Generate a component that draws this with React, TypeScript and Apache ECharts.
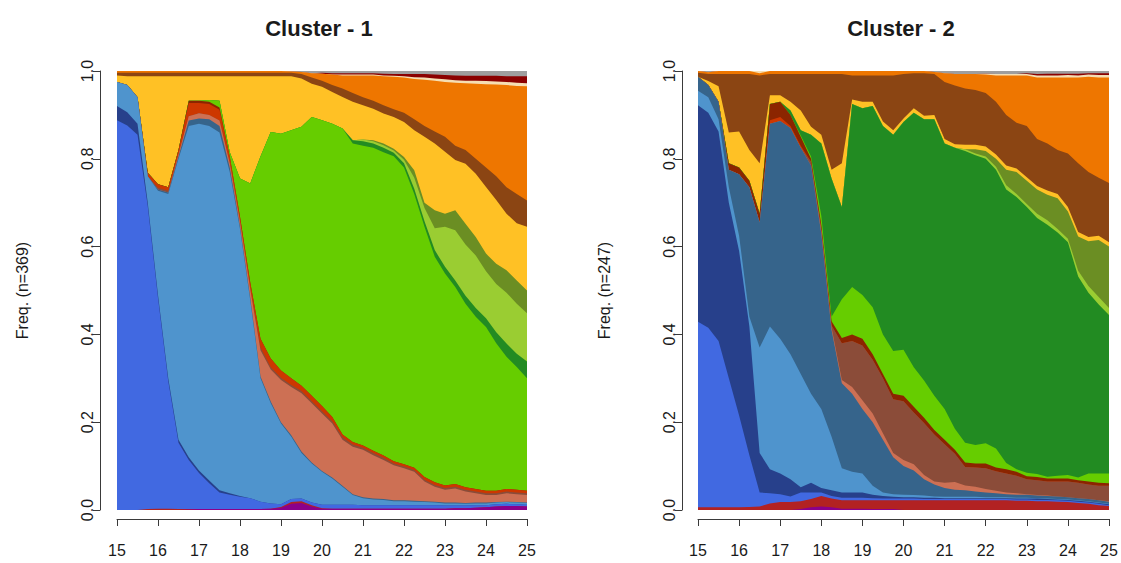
import React, { useEffect, useRef } from "react";
import * as echarts from "echarts";

// Age axis (quarterly time points)
const ages = [
  15, 15.25, 15.5, 15.75, 16, 16.25, 16.5, 16.75, 17, 17.25,
  17.5, 17.75, 18, 18.25, 18.5, 18.75, 19, 19.25, 19.5, 19.75,
  20, 20.25, 20.5, 20.75, 21, 21.25, 21.5, 21.75, 22, 22.25,
  22.5, 22.75, 23, 23.25, 23.5, 23.75, 24, 24.25, 24.5, 24.75, 25,
];
const ageTicks = [15, 16, 17, 18, 19, 20, 21, 22, 23, 24, 25];
const freqTicks = [0, 0.2, 0.4, 0.6, 0.8, 1.0];

const clusterTitles = ["Cluster - 1", "Cluster - 2"];
const clusterAxisNames = ["Freq. (n=369)", "Freq. (n=247)"];

// States, bottom of the stack first
const stateNames = [
  "S01", "S02", "S03", "S04", "S05", "S06", "S07", "S08", "S09", "S10",
  "S11", "S12", "S13", "S14", "S15", "S16", "S17", "S18", "S19", "S20",
];
const stateColors = [
  "#8B008B", "#B22222", "#4169E1", "#27408B", "#4F94CD", "#36648B", "#CD7054", "#8B4C39", "#CD3700", "#8B2500",
  "#66CD00", "#228B22", "#9ACD32", "#6B8E23", "#FFC125", "#8B4513", "#EE7600", "#F5DEB3", "#8B0000", "#9E9E9E",
];

// ---------- Cluster 1: share of each state at every age ----------
const c1Purple = [0, 0, 0, 0, 0, 0, 0, .001, .002, .002, .002, .002, .002, .002, .002, .003, .005, .014, .016, .008, .003, .003, .003, .003, .003, .003, .003, .003, .003, .003, .003, .003, .003, .004, .004, .005, .006, .008, .009, .009, .008];
const c1Red = [0, 0, 0, .002, .003, .003, .002, .001, 0, 0, 0, 0, 0, 0, 0, 0, .002, .004, .004, .003, .001, 0, 0, 0, 0, 0, 0, 0, 0, 0, 0, 0, 0, 0, 0, 0, 0, 0, 0, 0, 0];
const c1Royal = [.888, .876, .855, .69, .48, .29, .151, .112, .082, .059, .038, .033, .028, .025, .017, .012, .006, .007, .006, .006, .008, .009, .009, .009, .008, .008, .008, .008, .008, .008, .008, .008, .007, .006, .006, .006, .005, .005, .005, .004, .004];
const c1Navy = [.032, .03, .025, .008, .007, .007, .007, .006, .006, .006, .005, .003, .002, 0, 0, 0, 0, 0, 0, 0, 0, 0, 0, 0, 0, 0, 0, 0, 0, 0, 0, 0, 0, 0, 0, 0, 0, 0, 0, 0, 0];
const c1Steel = [.055, .062, .06, .06, .237, .42, .64, .755, .79, .808, .815, .732, .608, .451, .281, .228, .184, .142, .104, .089, .075, .06, .041, .022, .016, .013, .012, .009, .009, .008, .007, .006, .005, .005, .004, .004, .004, .004, .004, .004, .004];
const c1DarkSteel = [0, 0, 0, 0, .003, .003, .005, .012, .012, .015, .015, .01, .006, .005, .004, .004, .003, .003, .003, .002, .002, .002, .002, .002, .002, .002, .002, .002, .002, .002, .002, .002, .002, .002, .002, .002, .002, .001, .001, .001, .001];
const c1Salmon = [0, 0, 0, 0, 0, 0, .005, .01, .012, .01, .012, .01, .01, .02, .06, .073, .096, .11, .133, .135, .131, .123, .105, .108, .108, .099, .089, .08, .073, .066, .045, .034, .029, .032, .026, .021, .017, .016, .019, .018, .017];
const c1Sienna = [0, 0, 0, 0, .004, .004, 0, 0, 0, 0, 0, 0, 0, 0, .006, .005, .005, .005, .005, .005, .005, .005, .006, .005, .005, .005, .005, .004, .004, .004, .004, .004, .004, .004, .004, .004, .004, .004, .004, .004, .004];
const c1OrangeRed = [0, 0, 0, .008, .008, .008, .01, .03, .023, .025, .025, .015, .012, .015, .02, .02, .017, .015, .012, .012, .012, .01, .006, .006, .005, .005, .005, .005, .005, .005, .006, .006, .006, .006, .006, .006, .006, .006, .006, .006, .006];
const c1Rust = [0, 0, 0, 0, 0, 0, 0, .005, .005, .005, .005, 0, 0, 0, 0, 0, 0, 0, 0, 0, 0, 0, 0, 0, 0, 0, 0, 0, 0, 0, 0, 0, 0, 0, 0, 0, 0, 0, 0, 0, 0];
const c1Lime = [0, 0, 0, 0, 0, 0, 0, 0, 0, .004, .015, .01, .087, .226, .415, .516, .539, .565, .59, .635, .651, .668, .697, .68, .683, .69, .691, .695, .676, .624, .57, .514, .483, .449, .418, .392, .373, .336, .301, .28, .256];
const c1Forest = [0, 0, 0, 0, 0, 0, 0, 0, 0, 0, 0, 0, 0, 0, 0, 0, 0, 0, 0, 0, 0, 0, 0, .007, .01, .01, .01, .008, .01, .012, .013, .015, .015, .015, .018, .02, .02, .025, .03, .03, .038];
const c1YellowGreen = [0, 0, 0, 0, 0, 0, 0, 0, 0, 0, 0, 0, 0, 0, 0, 0, 0, 0, 0, 0, 0, 0, 0, 0, .004, .005, .006, .005, .008, .025, .03, .05, .091, .114, .117, .12, .107, .11, .116, .114, .11];
const c1Olive = [0, 0, 0, 0, 0, 0, 0, 0, 0, 0, 0, 0, 0, 0, 0, 0, 0, 0, 0, 0, 0, 0, 0, 0, 0, .002, .004, .004, .006, .017, .012, .041, .03, .046, .047, .042, .04, .046, .051, .053, .052];
const c1Gold = [.015, .02, .048, .22, .246, .253, .168, .056, .056, .054, .056, .173, .233, .244, .183, .127, .131, .123, .11, .076, .076, .072, .072, .088, .078, .072, .068, .072, .08, .091, .15, .152, .141, .114, .137, .144, .152, .145, .129, .13, .145];
const c1Brown = [.006, .008, .008, .008, .008, .008, .008, .008, .008, .008, .008, .008, .008, .008, .008, .008, .008, .008, .01, .014, .014, .016, .019, .02, .018, .018, .019, .018, .021, .025, .025, .027, .034, .033, .031, .034, .044, .054, .06, .067, .06];
const c1Orange = [.004, .004, .004, .004, .004, .004, .004, .004, .004, .004, .004, .004, .004, .004, .004, .004, .004, .003, .005, .01, .016, .024, .03, .04, .05, .058, .066, .074, .08, .092, .105, .116, .125, .143, .152, .171, .19, .209, .233, .246, .26];
const c1Wheat = [0, 0, 0, 0, 0, 0, 0, 0, 0, 0, 0, 0, 0, 0, 0, 0, 0, 0, 0, 0, 0, 0, .002, .002, .002, .002, .002, .002, .003, .004, .005, .005, .006, .006, .006, .007, .007, .007, .007, .007, .007];
const c1Maroon = [0, 0, 0, 0, 0, 0, 0, 0, 0, 0, 0, 0, 0, 0, 0, 0, 0, 0, 0, 0, .002, .003, .003, .003, .003, .003, .004, .004, .005, .007, .008, .009, .01, .011, .011, .011, .012, .013, .013, .015, .016];
const c1Grey = [0, 0, 0, 0, 0, 0, 0, 0, 0, 0, 0, 0, 0, 0, 0, 0, 0, .001, .002, .005, .004, .005, .005, .005, .005, .005, .006, .007, .007, .007, .007, .008, .009, .01, .011, .011, .011, .011, .012, .012, .012];

// ---------- Cluster 2 ----------
const c2Purple = [0, 0, 0, 0, 0, 0, 0, 0, 0, 0, .002, .006, .008, .006, .003, .003, .003, .002, .002, .002, 0, 0, 0, 0, 0, 0, 0, 0, 0, 0, 0, 0, 0, 0, 0, 0, 0, 0, 0, 0, 0];
const c2Red = [.006, .006, .006, .006, .006, .007, .008, .015, .018, .018, .018, .019, .024, .02, .019, .019, .019, .02, .02, .02, .022, .022, .022, .022, .022, .022, .022, .022, .022, .022, .022, .021, .021, .02, .02, .019, .018, .016, .014, .011, .009];
const c2Royal = [.423, .409, .379, .294, .209, .118, .032, .023, .018, .013, .02, .015, .008, .006, .006, .006, .006, .005, .004, .004, .004, .004, .003, .003, .003, .003, .003, .003, .003, .003, .003, .003, .003, .003, .003, .003, .003, .003, .003, .003, .002];
const c2Navy = [.493, .49, .477, .40, .375, .293, .09, .055, .047, .039, .012, .022, .01, .013, .012, .012, .012, .008, .006, .004, .003, .003, .003, .003, .002, .002, .002, .002, .002, .002, .002, .002, .002, .003, .002, .002, .002, .002, .002, .002, .002];
const c2Steel = [.033, .035, .028, .035, .035, .022, .24, .325, .307, .285, .258, .203, .18, .122, .055, .047, .043, .02, .008, .006, .006, .005, .005, .003, .003, .003, .003, .003, .002, .002, .002, .002, .002, .001, .001, .001, .001, .001, .001, .001, .001];
const c2DarkSteel = [.032, .028, .04, .04, .14, .295, .285, .462, .496, .515, .515, .52, .40, .243, .194, .178, .147, .145, .12, .084, .065, .056, .037, .027, .02, .016, .015, .012, .011, .009, .007, .007, .007, .006, .006, .006, .005, .005, .005, .005, .005];
const c2Salmon = [0, 0, 0, 0, 0, 0, 0, 0, 0, 0, 0, 0, .005, .005, .007, .015, .02, .02, .015, .01, .014, .014, .01, .007, .012, .018, .011, .011, .008, .006, .004, .003, .001, .001, .001, 0, 0, 0, 0, 0, .001];
const c2Sienna = [0, 0, 0, 0, 0, 0, 0, 0, 0, 0, 0, .008, .005, .005, .084, .105, .125, .122, .125, .122, .134, .118, .118, .107, .088, .064, .042, .044, .047, .044, .043, .04, .034, .034, .032, .034, .036, .035, .033, .033, .035];
const c2OrangeRed = [0, 0, 0, 0, 0, 0, 0, .008, .009, .005, .005, 0, 0, 0, 0, 0, 0, 0, 0, 0, 0, 0, 0, 0, 0, 0, 0, 0, 0, 0, 0, 0, 0, 0, 0, 0, 0, 0, 0, 0, 0];
const c2Rust = [0, 0, 0, .015, .015, .015, .02, .037, .035, .025, .02, .007, .01, .01, .012, .015, .015, .013, .01, .013, .012, .013, .012, .01, .01, .009, .01, .009, .011, .009, .01, .009, .007, .007, .007, .007, .007, .006, .007, .007, .006];
const c2Lime = [0, 0, 0, 0, 0, 0, 0, 0, 0, 0, .003, .005, .02, .01, .088, .108, .10, .107, .09, .097, .105, .09, .085, .078, .07, .048, .045, .042, .046, .043, .014, .006, .008, .007, .004, .006, .008, .006, .018, .021, .022];
const c2Forest = [0, 0, 0, 0, 0, 0, 0, 0, 0, .01, .012, .05, .165, .315, .21, .417, .425, .458, .475, .493, .519, .58, .595, .63, .605, .64, .665, .66, .648, .635, .623, .62, .605, .583, .574, .554, .53, .458, .412, .385, .361];
const c2YellowGreen = [0, 0, 0, 0, 0, 0, 0, 0, 0, 0, 0, 0, 0, 0, 0, 0, 0, 0, 0, 0, 0, 0, 0, 0, 0, 0, .004, .004, .005, .007, .01, .007, .007, .01, .01, .008, .008, .013, .015, .017, .016];
const c2Olive = [0, 0, 0, 0, 0, 0, 0, 0, 0, 0, 0, 0, 0, 0, 0, 0, 0, 0, 0, 0, 0, 0, 0, 0, 0, 0, 0, .01, .013, .018, .035, .05, .053, .055, .058, .07, .062, .078, .102, .13, .14];
const c2Gold = [0, .009, .035, .07, .082, .07, .115, .02, .015, .02, .045, .018, .02, .02, .10, .01, .015, .01, .01, .01, .008, .01, .008, .01, .01, .008, .01, .01, .01, .01, .01, .008, .008, .008, .01, .01, .01, .01, .01, .01, .01];
const c2Brown = [.009, .016, .028, .133, .131, .173, .20, .048, .048, .063, .083, .12, .138, .218, .203, .055, .06, .06, .105, .125, .101, .08, .097, .093, .13, .134, .128, .125, .122, .12, .115, .104, .117, .107, .107, .10, .122, .157, .148, .132, .135];
const c2Orange = [.004, .004, .007, .007, .007, .007, .005, .007, .007, .007, .007, .007, .007, .007, .007, .01, .01, .01, .01, .01, .007, .005, .005, .005, .02, .026, .033, .036, .042, .06, .09, .108, .115, .14, .15, .165, .173, .195, .217, .228, .24];
const c2Wheat = [0, 0, 0, 0, 0, 0, .005, 0, 0, 0, 0, 0, 0, 0, 0, 0, 0, 0, 0, 0, 0, 0, 0, 0, 0, 0, 0, 0, .002, .003, .003, .003, .003, .005, .005, .005, .006, .005, .005, .006, .006];
const c2Maroon = [0, 0, 0, 0, 0, 0, 0, 0, 0, 0, 0, 0, 0, 0, 0, 0, 0, 0, 0, 0, 0, 0, 0, 0, 0, 0, 0, 0, 0, 0, 0, 0, .002, .003, .004, .004, .003, .004, .003, .004, .004];
const c2Grey = [0, .003, 0, 0, 0, 0, 0, 0, 0, 0, 0, 0, 0, 0, 0, 0, 0, 0, 0, 0, 0, 0, 0, .002, .005, .007, .007, .007, .006, .007, .007, .007, .005, .007, .006, .006, .006, .006, .005, .005, .005];

const cluster1 = [
  c1Purple, c1Red, c1Royal, c1Navy, c1Steel, c1DarkSteel, c1Salmon, c1Sienna, c1OrangeRed, c1Rust,
  c1Lime, c1Forest, c1YellowGreen, c1Olive, c1Gold, c1Brown, c1Orange, c1Wheat, c1Maroon, c1Grey,
];
const cluster2 = [
  c2Purple, c2Red, c2Royal, c2Navy, c2Steel, c2DarkSteel, c2Salmon, c2Sienna, c2OrangeRed, c2Rust,
  c2Lime, c2Forest, c2YellowGreen, c2Olive, c2Gold, c2Brown, c2Orange, c2Wheat, c2Maroon, c2Grey,
];

const FONT = "'Liberation Sans', Arial, Helvetica, sans-serif";
const AXIS_COLOR = "#3a3a3a";
const TEXT_COLOR = "#1a1a1a";
const TICK_FONT = 16;

// Each state is drawn as an area from 0 up to its running total; lower states
// are painted later so they sit on top, which keeps the bands seamless.
function clusterSeries(layers: number[][], gridIndex: number) {
  const totals: number[][] = [];
  let running = ages.map(() => 0);
  layers.forEach((vals) => {
    running = running.map((r, i) => r + vals[i]);
    totals.push(running);
  });
  const out: any[] = [];
  for (let k = layers.length - 1; k >= 0; k--) {
    out.push({
      type: "line",
      name: stateNames[k],
      xAxisIndex: gridIndex,
      yAxisIndex: gridIndex,
      data: ages.map((a, i) => [a, Math.min(1, totals[k][i])]),
      symbol: "none",
      silent: true,
      lineStyle: { width: 0, color: stateColors[k] },
      itemStyle: { color: stateColors[k] },
      areaStyle: { color: stateColors[k], opacity: 1, origin: "start" },
    });
  }
  return out;
}

function xAxisFor(gridIndex: number) {
  return {
    type: "value",
    gridIndex,
    min: ageTicks[0],
    max: ageTicks[ageTicks.length - 1],
    interval: 1,
    position: "bottom",
    offset: 9,
    axisLine: { show: true, onZero: false, lineStyle: { color: AXIS_COLOR, width: 1 } },
    axisTick: { show: true, length: 7, lineStyle: { color: AXIS_COLOR, width: 1 } },
    axisLabel: { margin: 23, fontSize: TICK_FONT, color: TEXT_COLOR, fontFamily: FONT },
    splitLine: { show: false },
  };
}

function yAxisFor(gridIndex: number, name: string, offset: number) {
  return {
    type: "value",
    gridIndex,
    min: freqTicks[0],
    max: freqTicks[freqTicks.length - 1],
    interval: 0.2,
    position: "left",
    offset,
    axisLine: { show: true, lineStyle: { color: AXIS_COLOR, width: 1 } },
    axisTick: { show: true, length: 7, lineStyle: { color: AXIS_COLOR, width: 1 } },
    axisLabel: {
      rotate: 90,
      margin: 5,
      fontSize: TICK_FONT,
      color: TEXT_COLOR,
      fontFamily: FONT,
      formatter: (v: number) => v.toFixed(1),
    },
    splitLine: { show: false },
    name,
    nameLocation: "middle",
    nameRotate: 90,
    nameGap: 70,
    nameTextStyle: { fontSize: 16, color: TEXT_COLOR, fontFamily: FONT },
  };
}

export default function App() {
  const ref = useRef<HTMLDivElement>(null);

  useEffect(() => {
    if (!ref.current) return;
    const chart = echarts.init(ref.current, null, { renderer: "svg" });
    chart.setOption({
      animation: false,
      backgroundColor: "#ffffff",
      textStyle: { fontFamily: FONT },
      title: [
        {
          text: clusterTitles[0],
          left: 314,
          top: 12,
          textAlign: "center",
          textStyle: { fontSize: 22, fontWeight: "bold", color: TEXT_COLOR, fontFamily: FONT },
        },
        {
          text: clusterTitles[1],
          left: 896,
          top: 12,
          textAlign: "center",
          textStyle: { fontSize: 22, fontWeight: "bold", color: TEXT_COLOR, fontFamily: FONT },
        },
      ],
      grid: [
        { left: 117, top: 71, width: 410, height: 439, containLabel: false },
        { left: 698, top: 71, width: 411, height: 439, containLabel: false },
      ],
      xAxis: [xAxisFor(0), xAxisFor(1)],
      yAxis: [yAxisFor(0, clusterAxisNames[0], 17), yAxisFor(1, clusterAxisNames[1], 16)],
      series: [...clusterSeries(cluster1, 0), ...clusterSeries(cluster2, 1)],
    });
    return () => chart.dispose();
  }, []);

  return (
    <div
      ref={ref}
      style={{ position: "fixed", left: 0, top: 0, width: 1121, height: 563, background: "#fff" }}
    />
  );
}
